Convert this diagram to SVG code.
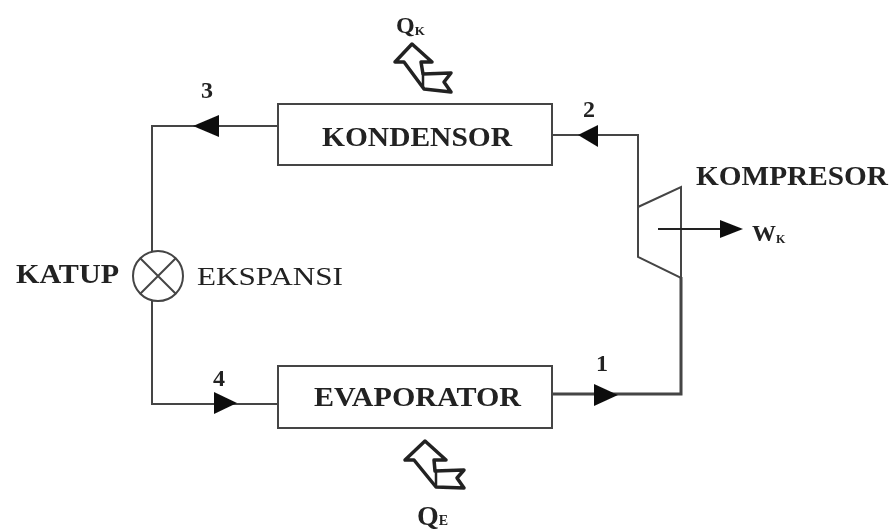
<svg xmlns="http://www.w3.org/2000/svg" width="893" height="531" viewBox="0 0 893 531">
<defs><filter id="soft" x="0" y="0" width="100%" height="100%"><feGaussianBlur stdDeviation="0.55"/></filter></defs>
<style>
text{font-family:"Liberation Serif","Times New Roman",serif;font-weight:bold;fill:#222}
.n{font-size:28px}
.d{font-size:24px}
.l{fill:none;stroke:#444;stroke-width:2}
.box{fill:#fff;stroke:#444;stroke-width:2}
.a{fill:#111;stroke:none}
.h{fill:#fff;stroke:#222;stroke-width:3.5;stroke-linejoin:round}
.i{fill:none;stroke:#222;stroke-width:2.5}
</style>
<rect width="893" height="531" fill="#fff"/>
<g filter="url(#soft)">
<g id="connectors">
<path class="l" d="M277 126H152V252M152 300V404H277"/>
<path class="l" d="M552 135H638V208"/>
<path class="l" style="stroke-width:3" d="M552 394H681V277"/>
<polygon class="a" points="193,126 219,115 219,137"/>
<polygon class="a" points="578,135 598,125 598,147"/>
<polygon class="a" points="237,403 214,392 214,414"/>
<polygon class="a" points="618,395 594,384 594,406"/>
</g>
<g id="kondensor"><rect class="box" x="278" y="104" width="274" height="61"/><text class="n" x="322" y="146" textLength="190" lengthAdjust="spacingAndGlyphs">KONDENSOR</text></g>
<g id="evaporator"><rect class="box" x="278" y="366" width="274" height="62"/><text class="n" x="314" y="406" textLength="207" lengthAdjust="spacingAndGlyphs">EVAPORATOR</text></g>
<g id="kompresor"><polygon class="box" points="638,207 681,187 681,278 638,257"/><path class="l" style="stroke:#222" d="M658 229H725"/><polygon class="a" points="743,229 720,220 720,238"/><text class="n" x="696" y="185" textLength="192" lengthAdjust="spacingAndGlyphs">KOMPRESOR</text></g>
<g id="katup"><circle class="box" cx="158" cy="276" r="25"/><path class="l" d="M140 258L176 294M176 258L140 294"/><text class="n" x="16" y="283" textLength="103" lengthAdjust="spacingAndGlyphs">KATUP</text><text x="197" y="285" font-size="26" textLength="146" lengthAdjust="spacingAndGlyphs" style="font-weight:normal">EKSPANSI</text></g>
<g id="qk"><polygon class="h" points="412,44 395,62 404,62 424,89 451,92 444,82 451,73 423,74 421,62 432,62"/><path class="i" d="M423 74V88"/><text x="396" y="33" font-size="24">Q<tspan font-size="13" dy="2">K</tspan></text></g>
<g id="qe"><polygon class="h" points="425,441 405,460 414,460 436,487 464,488 457,478 464,470 435,471 434,460 446,460"/><path class="i" d="M436 471V486"/><text x="417" y="525" font-size="28">Q<tspan font-size="14">E</tspan></text></g>
<g id="wk"><text x="752" y="241" font-size="24">W<tspan font-size="12" dy="2">K</tspan></text></g>
<g id="labels"><text class="d" x="201" y="98">3</text><text class="d" x="583" y="117">2</text><text class="d" x="213" y="386">4</text><text class="d" x="596" y="371">1</text></g>
</g>
</svg>
